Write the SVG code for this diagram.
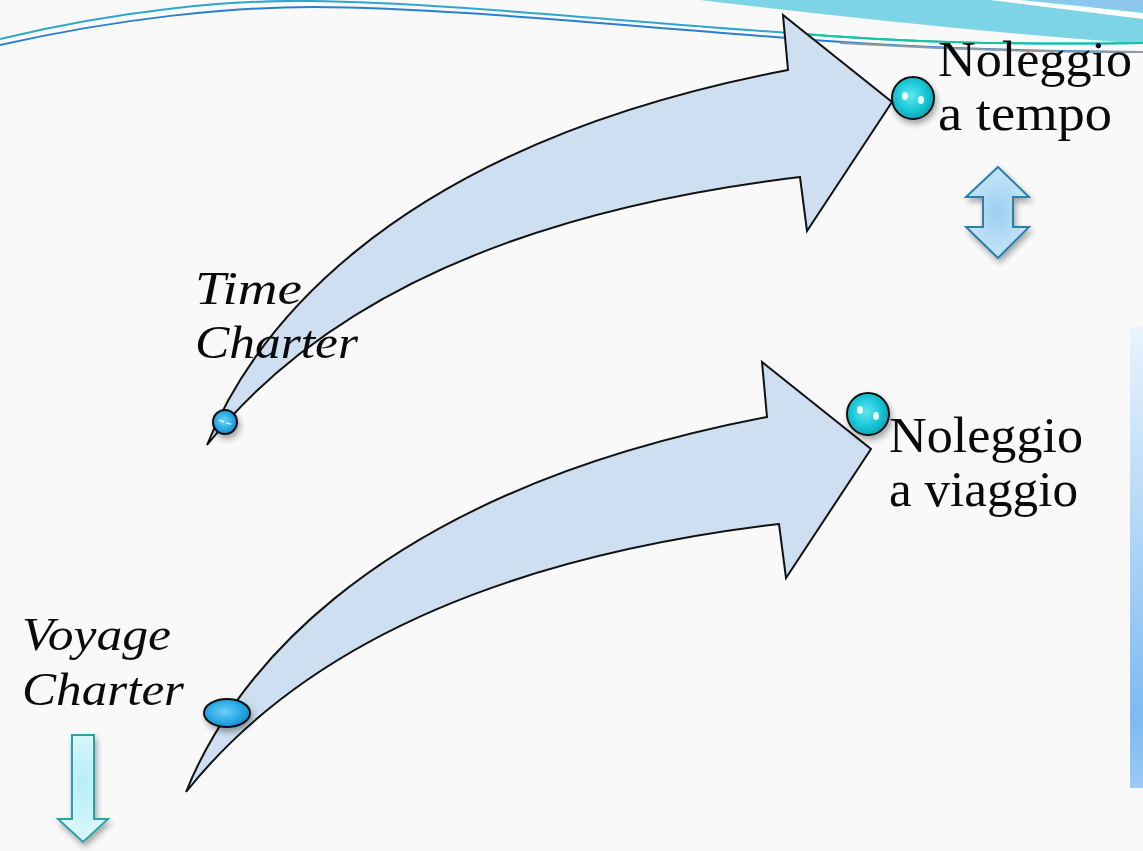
<svg xmlns="http://www.w3.org/2000/svg" width="1143" height="851" viewBox="0 0 1143 851">
  <defs>
    <style>
      .arrow { fill: #cddff0; stroke: #111; stroke-width: 2; stroke-linejoin: miter; }
      .lbl { font-family: "Liberation Serif", "Times New Roman", serif; fill: #0a0a0a; }
      .it { font-style: italic; font-size: 46px; }
      .rg { font-size: 50px; }
      .ball { stroke: #111; stroke-width: 2; }
    </style>
    <radialGradient id="cyan" cx="0.45" cy="0.45" r="0.6">
      <stop offset="0" stop-color="#5ee8f2"/>
      <stop offset="0.6" stop-color="#18c6d6"/>
      <stop offset="1" stop-color="#0b9fb0"/>
    </radialGradient>
    <radialGradient id="blue" cx="0.45" cy="0.45" r="0.6">
      <stop offset="0" stop-color="#6cd0f6"/>
      <stop offset="0.6" stop-color="#2aaae6"/>
      <stop offset="1" stop-color="#1487c8"/>
    </radialGradient>
    <radialGradient id="dbl" cx="0.5" cy="0.5" r="0.6">
      <stop offset="0" stop-color="#9ccff2"/>
      <stop offset="1" stop-color="#cfe8fb"/>
    </radialGradient>
    <radialGradient id="down" cx="0.5" cy="0.45" r="0.6">
      <stop offset="0" stop-color="#b4eef6"/>
      <stop offset="1" stop-color="#e2f9fc"/>
    </radialGradient>
    <linearGradient id="bar" x1="0" y1="0" x2="0" y2="1">
      <stop offset="0" stop-color="#eaf4fd"/>
      <stop offset="0.85" stop-color="#7cbaf0"/>
      <stop offset="1" stop-color="#9ccaf3"/>
    </linearGradient>
    <filter id="shadow" x="-50%" y="-50%" width="200%" height="200%">
      <feGaussianBlur in="SourceAlpha" stdDeviation="3"/>
      <feOffset dx="2" dy="4" result="b"/>
      <feComponentTransfer><feFuncA type="linear" slope="0.35"/></feComponentTransfer>
      <feMerge><feMergeNode/><feMergeNode in="SourceGraphic"/></feMerge>
    </filter>
  </defs>

  <rect width="1143" height="851" fill="#f9f9f9"/>

  <g id="top-decoration">
    <path d="M 700,0 Q 950,30 1143,44 L 1143,0 Z" fill="#7dd4e6"/>
    <path d="M 990,0 Q 1070,10 1143,19 L 1143,13 Q 1080,6 1020,0 Z" fill="#ffffff"/>
    <path d="M 1040,0 Q 1100,6 1143,12 L 1143,0 Z" fill="#8cc6ec"/>
    <path d="M 0,39 C 120,10 230,0 310,1 C 450,3 600,20 790,33 C 900,42 1000,45 1143,43" fill="none" stroke="#2fa6cc" stroke-width="2"/>
    <path d="M 790,33 C 900,42 1000,45 1143,43" fill="none" stroke="#10c8a0" stroke-width="2"/>
    <path d="M 0,45 C 120,18 230,7 313,7 C 450,8 600,24 787,38 C 900,47 1000,51 1143,52" fill="none" stroke="#2a7fd0" stroke-width="2"/>
    <path d="M 840,43 C 940,49 1040,52 1143,52" fill="none" stroke="#909aa0" stroke-width="2"/>
  </g>

  <g id="side-bar">
    <rect x="1130" y="327" width="13" height="461" fill="url(#bar)"/>
  </g>

  <g id="connectors">
    <path id="arrow-time" class="arrow" d="M 207,445 C 245,350 370,150 788,70 L 783,15 L 892,102 L 807,231 L 800,177 Q 381,227 207,445 Z"/>
    <path id="arrow-voyage" class="arrow" transform="translate(-21,347)" d="M 207,445 C 245,350 370,150 788,70 L 783,15 L 892,102 L 807,231 L 800,177 Q 381,227 207,445 Z"/>
  </g>

  <g id="node-time-charter">
    <text class="lbl it" x="195" y="304" textLength="107" lengthAdjust="spacingAndGlyphs">Time</text>
    <text class="lbl it" x="195" y="358" textLength="163" lengthAdjust="spacingAndGlyphs">Charter</text>
    <circle class="ball" cx="225" cy="422" r="12" fill="url(#blue)" filter="url(#shadow)"/>
    <path d="M 219,420 L 224,422 M 226,423 L 231,424" stroke="#ffffff" stroke-width="1.5" opacity="0.8"/>
  </g>

  <g id="node-voyage-charter">
    <text class="lbl it" x="22" y="650" textLength="149" lengthAdjust="spacingAndGlyphs">Voyage</text>
    <text class="lbl it" x="22" y="705" textLength="162" lengthAdjust="spacingAndGlyphs">Charter</text>
    <ellipse class="ball" cx="227" cy="713" rx="23" ry="14" fill="url(#blue)" filter="url(#shadow)"/>
  </g>

  <g id="node-noleggio-tempo">
    <circle class="ball" cx="913" cy="98" r="21" fill="url(#cyan)" filter="url(#shadow)"/>
    <ellipse cx="905" cy="96" rx="3" ry="4" fill="#ffffff" opacity="0.9"/>
    <ellipse cx="921" cy="100" rx="3" ry="4" fill="#ffffff" opacity="0.9"/>
    <text class="lbl rg" x="938" y="76" textLength="194" lengthAdjust="spacingAndGlyphs">Noleggio</text>
    <text class="lbl rg" x="938" y="130" textLength="174" lengthAdjust="spacingAndGlyphs">a tempo</text>
  </g>

  <g id="node-noleggio-viaggio">
    <circle class="ball" cx="868" cy="414" r="21" fill="url(#cyan)" filter="url(#shadow)"/>
    <ellipse cx="860" cy="410" rx="3" ry="4" fill="#ffffff" opacity="0.9"/>
    <ellipse cx="876" cy="416" rx="3" ry="4" fill="#ffffff" opacity="0.9"/>
    <text class="lbl rg" x="889" y="452" textLength="194" lengthAdjust="spacingAndGlyphs">Noleggio</text>
    <text class="lbl rg" x="889" y="506" textLength="189" lengthAdjust="spacingAndGlyphs">a viaggio</text>
  </g>

  <g id="double-arrow">
    <path d="M 998,167 L 1029,197 L 1013,197 L 1013,227 L 1029,227 L 998,258 L 966,227 L 983,227 L 983,197 L 966,197 Z" fill="url(#dbl)" stroke="#2a80a8" stroke-width="2" filter="url(#shadow)"/>
  </g>

  <g id="down-arrow">
    <path d="M 72,735 L 94,735 L 94,819 L 108,819 L 83,842 L 58,819 L 72,819 Z" fill="url(#down)" stroke="#2aa0a8" stroke-width="2" filter="url(#shadow)"/>
  </g>
</svg>
